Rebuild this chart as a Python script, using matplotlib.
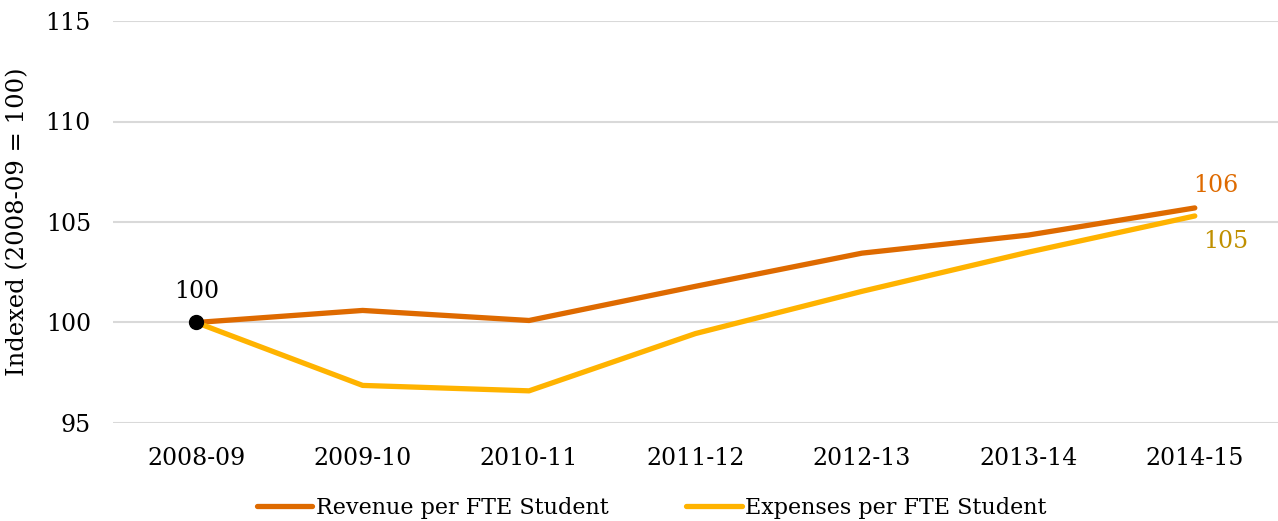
import matplotlib
matplotlib.use('Agg')
import matplotlib.pyplot as plt

years = ['2008-09', '2009-10', '2010-11', '2011-12', '2012-13', '2013-14', '2014-15']
revenue = [100, 100.6, 100.1, 101.8, 103.45, 104.35, 105.7]
expenses = [100, 96.87, 96.6, 99.45, 101.55, 103.5, 105.3]

plt.rcParams['font.family'] = ['DejaVu Serif']
rev_color = '#DE6A00'
exp_color = '#FFB300'

fig = plt.figure(figsize=(12.78, 5.21), dpi=100)
ax = fig.add_axes([113 / 1278, 1 - 423 / 521, 1 - 113 / 1278, (423 - 21) / 521])

x = list(range(len(years)))
ax.plot(x, revenue, color=rev_color, lw=3.8, solid_capstyle='round', label='Revenue per FTE Student')
ax.plot(x, expenses, color=exp_color, lw=3.8, solid_capstyle='round', label='Expenses per FTE Student')
ax.plot([0], [revenue[0]], 'o', color='black', ms=10, zorder=5)

ax.set_xlim(-0.5, len(years) - 0.5)
ax.set_ylim(95, 115)
ax.set_yticks([95, 100, 105, 110, 115])
ax.set_xticks(x)
ax.set_xticklabels(years)
ax.grid(axis='y', color='#d9d9d9', lw=1.5)
ax.set_axisbelow(True)
for s in ax.spines.values():
    s.set_visible(False)
ax.tick_params(length=0, labelsize=17, pad=17)
ax.tick_params(axis='y', pad=16)
ax.set_ylabel('Indexed (2008-09 = 100)', fontsize=17.5, labelpad=12)

ax.annotate('100', (0, revenue[0]), xytext=(0, 14), textcoords='offset points',
            ha='center', va='bottom', fontsize=17)
ax.annotate('106', (6, revenue[-1]), xytext=(15, 8), textcoords='offset points',
            ha='center', va='bottom', fontsize=17, color=rev_color)
ax.annotate('105', (6, expenses[-1]), xytext=(22, -10), textcoords='offset points',
            ha='center', va='top', fontsize=17, color='#C09000')

fig.legend(loc='center', bbox_to_anchor=(0.51, 1 - 508 / 521), ncol=2, frameon=False,
           fontsize=16, handlelength=2.5, handletextpad=0.15, columnspacing=3.5)

fig.savefig('out.png', dpi=100)
